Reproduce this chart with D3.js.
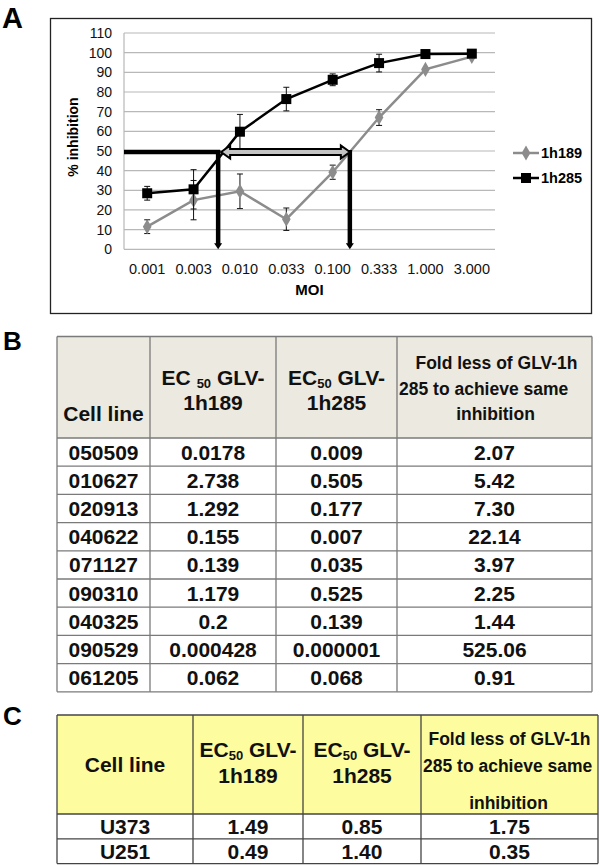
<!DOCTYPE html>
<html><head><meta charset="utf-8">
<script src="https://cdn.jsdelivr.net/npm/d3@7"></script>
<style>body{margin:0;background:#fff;} svg{display:block;font-family:"Liberation Sans",Arial,Helvetica,sans-serif;}</style>
</head><body><svg id="c" width="600" height="865"></svg>
<script>
// ---------- Panel A data ----------
const moi = ["0.001","0.003","0.010","0.033","0.100","0.333","1.000","3.000"];
const v189 = [11.5, 25, 29.5, 15.3, 39.2, 67, 91.5, 98];
const e189 = [3.5, 10, 8.8, 5.7, 3.6, 4, 0, 0];
const v285 = [28.5, 30.5, 59.8, 76.4, 86.2, 94.7, 99.3, 99.5];
const e285 = [3.5, 10, 8.8, 6, 3, 4.5, 0, 0];
const yTicks = [0,10,20,30,40,50,60,70,80,90,100,110];
const seriesNames = ["1h189","1h285"];
const ec50Pos = [1.53, 4.37];   // EC50 crossing positions on category axis (index units)
const ec50Level = 50;

// ---------- Panel B data ----------
const cellB = ["050509","010627","020913","040622","071127","090310","040325","090529","061205"];
const ec189B = ["0.0178","2.738","1.292","0.155","0.139","1.179","0.2","0.000428","0.062"];
const ec285B = ["0.009","0.505","0.177","0.007","0.035","0.525","0.139","0.000001","0.068"];
const foldB = ["2.07","5.42","7.30","22.14","3.97","2.25","1.44","525.06","0.91"];

// ---------- Panel C data ----------
const cellC = ["U373","U251"];
const ec189C = ["1.49","0.49"];
const ec285C = ["0.85","1.40"];
const foldC = ["1.75","0.35"];

const svg = d3.select("#c");

// ================= Panel A =================
svg.append("text").attr("x",2).attr("y",28).attr("font-size",29).attr("font-weight","bold").text("A");
svg.append("rect").attr("x",50.5).attr("y",18.5).attr("width",541).attr("height",295)
  .attr("fill","none").attr("stroke","#222").attr("stroke-width",1.3);

const pl = 124, pr = 495, pt = 33, pb = 249.3;
const x = d3.scaleBand().domain(moi).range([pl, pr]);
const xi = d3.scaleLinear().domain([0, moi.length-1]).range([x(moi[0])+x.bandwidth()/2, x(moi[moi.length-1])+x.bandwidth()/2]);
const y = d3.scaleLinear().domain([0,110]).range([pb, pt]);

const gA = svg.append("g");
gA.selectAll("line.grid").data(yTicks).join("line")
  .attr("x1",pl).attr("x2",pr).attr("y1",d=>y(d)).attr("y2",d=>y(d))
  .attr("stroke","#b8b8b8").attr("stroke-width",1.2);
gA.append("line").attr("x1",pl).attr("x2",pl).attr("y1",pt).attr("y2",pb).attr("stroke","#b8b8b8").attr("stroke-width",1.2);

const yAx = d3.axisLeft(y).tickValues(yTicks).tickSize(0).tickPadding(12);
const gy = gA.append("g").attr("transform",`translate(${pl},0)`).call(yAx);
gy.select(".domain").remove();
gy.selectAll("text").attr("font-size",14).attr("font-family","Liberation Sans, Arial, sans-serif").attr("fill","#111");

const xAx = d3.axisBottom(x).tickSize(0).tickPadding(14);
const gx = gA.append("g").attr("transform",`translate(0,${pb})`).call(xAx);
gx.select(".domain").remove();
gx.selectAll("text").attr("font-size",14.5).attr("font-family","Liberation Sans, Arial, sans-serif").attr("fill","#111");

svg.append("text").attr("x",(pl+pr)/2).attr("y",295).attr("text-anchor","middle")
  .attr("font-size",15).attr("font-weight","bold").text("MOI");
svg.append("text").attr("transform","translate(78,137) rotate(-90)").attr("text-anchor","middle")
  .attr("font-size",14).attr("font-weight","bold").text("% inhibition");

const cx = (d,i) => x(moi[i]) + x.bandwidth()/2;
const line = d3.line().x((d,i)=>cx(d,i)).y(d=>y(d));

function errBars(vals, errs){
  const g = gA.append("g");
  vals.forEach((v,i)=>{
    if(!errs[i]) return;
    const X = cx(v,i);
    g.append("line").attr("x1",X).attr("x2",X).attr("y1",y(v-errs[i])).attr("y2",y(v+errs[i])).attr("stroke","#111").attr("stroke-width",1);
    [v-errs[i], v+errs[i]].forEach(e=>{
      g.append("line").attr("x1",X-3).attr("x2",X+3).attr("y1",y(e)).attr("y2",y(e)).attr("stroke","#111").attr("stroke-width",1);
    });
  });
}

gA.append("path").datum(v189).attr("d",line).attr("fill","none").attr("stroke","#8c8c8c").attr("stroke-width",2.5);
errBars(v189, e189);
const diamond = d3.symbol().type(d3.symbolDiamond).size(65);
gA.selectAll("path.d189").data(v189).join("path")
  .attr("transform",(d,i)=>`translate(${cx(d,i)},${y(d)})`).attr("d",diamond).attr("fill","#8c8c8c");

gA.append("path").datum(v285).attr("d",line).attr("fill","none").attr("stroke","#000").attr("stroke-width",2.5);
errBars(v285, e285);
gA.selectAll("rect.s285").data(v285).join("rect")
  .attr("x",(d,i)=>cx(d,i)-5).attr("y",d=>y(d)-5).attr("width",10).attr("height",10).attr("fill","#000");

// annotations
const yy = y(ec50Level);
const xa = xi(ec50Pos[0]), xb = xi(ec50Pos[1]);
gA.append("line").attr("x1",pl).attr("x2",xa+2).attr("y1",yy+1).attr("y2",yy+1).attr("stroke","#000").attr("stroke-width",4.5);
[xa, xb].forEach(X=>{
  gA.append("line").attr("x1",X).attr("x2",X).attr("y1",yy-1).attr("y2",y(0)-5).attr("stroke","#000").attr("stroke-width",4.5);
  gA.append("path").attr("d",`M${X-4},${y(0)-6} L${X+4},${y(0)-6} L${X},${y(0)} Z`).attr("fill","#000");
});
{
  const x1 = xa+3, x2 = xb, c = yy+1, hb = 3, hh = 6.5, hl = 9;
  const p = `M${x1},${c} L${x1+hl},${c-hh} L${x1+hl},${c-hb} L${x2-hl},${c-hb} L${x2-hl},${c-hh} L${x2},${c} L${x2-hl},${c+hh} L${x2-hl},${c+hb} L${x1+hl},${c+hb} L${x1+hl},${c+hh} Z`;
  gA.append("path").attr("d",p).attr("fill","#c4c4c4").attr("stroke","#000").attr("stroke-width",2).attr("stroke-linejoin","miter");
}

// legend
const legY = [153, 178];
const legG = svg.append("g");
seriesNames.forEach((n,i)=>{
  const Y = legY[i];
  legG.append("line").attr("x1",513).attr("x2",539).attr("y1",Y).attr("y2",Y)
    .attr("stroke", i===0?"#8c8c8c":"#000").attr("stroke-width",2.5);
  if(i===0) legG.append("path").attr("transform",`translate(526,${Y})`).attr("d",diamond).attr("fill","#8c8c8c");
  else legG.append("rect").attr("x",521).attr("y",Y-5).attr("width",10).attr("height",10).attr("fill","#000");
  legG.append("text").attr("x",541).attr("y",Y+5).attr("font-size",14.5).attr("font-weight","bold").text(n);
});

// ================= Tables =================
function drawTable(opt){
  const g = svg.append("g");
  const cols = opt.cols, top = opt.top, hh = opt.headH, rh = opt.rowH;
  const rows = opt.cells.length;
  const W = cols[cols.length-1]-cols[0];
  const H = hh + rows*rh;
  g.append("rect").attr("x",cols[0]).attr("y",top).attr("width",W).attr("height",hh).attr("fill",opt.headFill);
  g.append("rect").attr("x",cols[0]).attr("y",top+hh).attr("width",W).attr("height",rows*rh).attr("fill","#fff");
  const hy = [top, top+hh].concat(d3.range(1,rows+1).map(r=>top+hh+r*rh));
  g.selectAll("line.h").data(hy).join("line").attr("x1",cols[0]).attr("x2",cols[cols.length-1])
    .attr("y1",d=>d).attr("y2",d=>d).attr("stroke",opt.stroke).attr("stroke-width",1.3);
  g.selectAll("line.v").data(cols).join("line").attr("x1",d=>d).attr("x2",d=>d)
    .attr("y1",top).attr("y2",top+H).attr("stroke",opt.stroke).attr("stroke-width",1.3);
  const mid = i => (cols[i]+cols[i+1])/2;
  const body = [opt.cells, opt.ec189, opt.ec285, opt.fold];
  body.forEach((col,ci)=>{
    g.selectAll(null).data(col).join("text")
      .attr("x",mid(ci)).attr("y",(d,r)=>top+hh+r*rh+rh/2+7.4)
      .attr("text-anchor","middle").attr("font-size",21).attr("font-weight","bold").attr("fill","#111").text(d=>d);
  });
  const t = (X,Y,txt,fs,anchor)=>g.append("text").attr("x",X).attr("y",Y).attr("text-anchor",anchor||"middle")
      .attr("font-size",fs).attr("font-weight","bold").attr("fill","#111").text(txt);
  t(mid(0), opt.hy.cell, "Cell line", 21);
  [[1,opt.ecSpace[0],"1h189"],[2,opt.ecSpace[1],"1h285"]].forEach(([ci,sp,nm])=>{
    const tx = g.append("text").attr("x",mid(ci)).attr("y",opt.hy.ec1).attr("text-anchor","middle")
      .attr("font-size",21).attr("font-weight","bold").attr("fill","#111");
    tx.append("tspan").text(sp?"EC ":"EC");
    tx.append("tspan").attr("font-size",13).attr("dy",3).text("50");
    tx.append("tspan").attr("dy",-3).text(" GLV-");
    t(mid(ci), opt.hy.ec2, nm, 21);
  });
  t(mid(3)+opt.foldDx, opt.hy.f1, "Fold less of GLV-1h", 17.5);
  t(cols[3]+2, opt.hy.f2, "285 to achieve same", 17.5, "start");
  t(mid(3)+opt.foldDx-1, opt.hy.f3, "inhibition", 17.5);
}

svg.append("text").attr("x",3).attr("y",350).attr("font-size",26).attr("font-weight","bold").text("B");
drawTable({cols:[57,150,276,397,592], top:336.5, headH:101.5, rowH:28.2, headFill:"#ece9e0", stroke:"#7a7a7a",
  cells:cellB, ec189:ec189B, ec285:ec285B, fold:foldB, ecSpace:[true,false], foldDx:2,
  hy:{cell:421, ec1:385, ec2:410, f1:369, f2:395, f3:420}});

svg.append("text").attr("x",3).attr("y",725).attr("font-size",26).attr("font-weight","bold").text("C");
drawTable({cols:[57,193,303,421,598], top:715, headH:99, rowH:24.8, headFill:"#fdfd9f", stroke:"#444",
  cells:cellC, ec189:ec189C, ec285:ec285C, fold:foldC, ecSpace:[false,false], foldDx:0,
  hy:{cell:772, ec1:757, ec2:783, f1:745, f2:772, f3:809}});
</script></body></html>
